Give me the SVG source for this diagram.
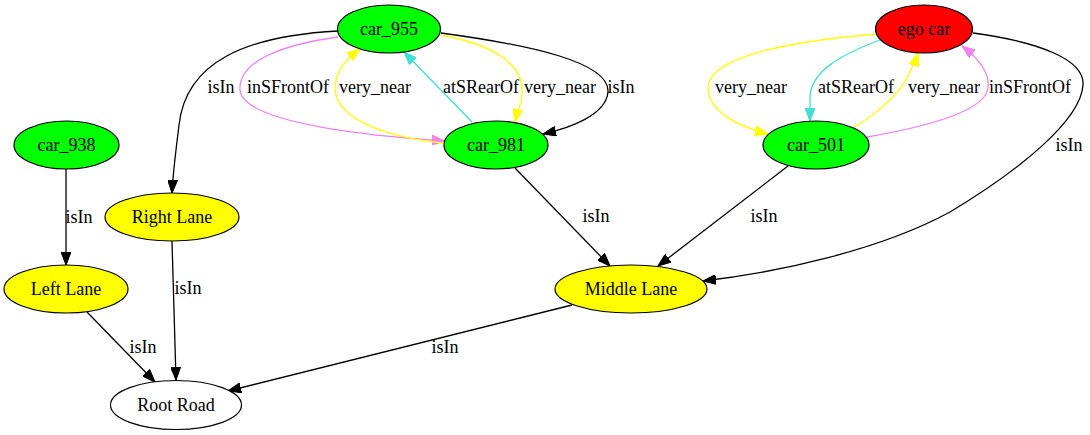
<svg xmlns="http://www.w3.org/2000/svg" width="1090" height="435" viewBox="0 0 1090 435">
<style>
text{font-family:"Liberation Serif","Times New Roman",serif;font-size:18px;text-anchor:middle;fill:#000}
.n ellipse{stroke:#000;stroke-width:1.2}
.e path{fill:none;stroke-width:1.3}
.k{stroke:#000}
.y{stroke:#ffff00}
.v{stroke:#ee82ee}
.t{stroke:#40e0d0}
</style>
<defs>
<marker id="ak" markerWidth="14" markerHeight="10" refX="13" refY="5" orient="auto" markerUnits="userSpaceOnUse"><path d="M0,0 L13,5 L0,10 z" fill="#000" stroke="#000"/></marker>
<marker id="ay" markerWidth="14" markerHeight="10" refX="13" refY="5" orient="auto" markerUnits="userSpaceOnUse"><path d="M0,0 L13,5 L0,10 z" fill="#ffff00" stroke="#ffff00"/></marker>
<marker id="av" markerWidth="14" markerHeight="10" refX="13" refY="5" orient="auto" markerUnits="userSpaceOnUse"><path d="M0,0 L13,5 L0,10 z" fill="#ee82ee" stroke="#ee82ee"/></marker>
<marker id="at" markerWidth="14" markerHeight="10" refX="13" refY="5" orient="auto" markerUnits="userSpaceOnUse"><path d="M0,0 L13,5 L0,10 z" fill="#40e0d0" stroke="#40e0d0"/></marker>
</defs>
<g id="connectors" class="e">
<path class="k" marker-end="url(#ak)" d="M338,31 C245,36 186,62 179,125 C176,150 173,172 172,193"/>
<path class="v" marker-end="url(#av)" d="M338,37 C280,45 238,62 240,90 C243,125 385,137 445,141"/>
<path class="y" marker-end="url(#ay)" d="M444,143 C390,138 335,120 335,88 C335,70 348,58 360,49"/>
<path class="t" marker-end="url(#at)" d="M472,122 L404,52"/>
<path class="y" marker-end="url(#ay)" d="M441,35 C495,45 525,65 522,95 C521,105 517,113 515,122"/>
<path class="k" marker-end="url(#ak)" d="M441,33 C530,45 610,62 608,92 C606,115 570,128 543,134"/>
<path class="y" marker-end="url(#ay)" d="M878,34 C800,40 708,55 708,88 C708,112 740,127 768,134"/>
<path class="t" marker-end="url(#at)" d="M880,40 C840,55 810,72 810,98 L810,121"/>
<path class="y" marker-end="url(#ay)" d="M853,128 C878,113 902,92 910,72 C913,65 916,59 918,53"/>
<path class="v" marker-end="url(#av)" d="M867,137 C925,127 985,112 988,88 C990,72 978,58 962,46"/>
<path class="k" marker-end="url(#ak)" d="M973,33 C1040,42 1085,60 1083,85 C1081,120 1020,170 950,212 C880,250 780,272 703,281"/>
<path class="k" marker-end="url(#ak)" d="M515,168 L610,266"/>
<path class="k" marker-end="url(#ak)" d="M788,166 L658,266"/>
<path class="k" marker-end="url(#ak)" d="M572,305 L228,391"/>
<path class="k" marker-end="url(#ak)" d="M66,169 L66,265"/>
<path class="k" marker-end="url(#ak)" d="M172,241 L176,380"/>
<path class="k" marker-end="url(#ak)" d="M87,312 L155,382"/>
<text x="221" y="93">isIn</text>
<text x="288" y="93">inSFrontOf</text>
<text x="375" y="93">very_near</text>
<text x="481" y="93">atSRearOf</text>
<text x="560" y="93">very_near</text>
<text x="621" y="93">isIn</text>
<text x="751" y="93">very_near</text>
<text x="856" y="93">atSRearOf</text>
<text x="944" y="93">very_near</text>
<text x="1030" y="93">inSFrontOf</text>
<text x="1069" y="151">isIn</text>
<text x="596" y="222">isIn</text>
<text x="764" y="222">isIn</text>
<text x="445" y="353">isIn</text>
<text x="79" y="223">isIn</text>
<text x="188" y="294">isIn</text>
<text x="143" y="353">isIn</text>
</g>
<g id="car_955" class="n"><ellipse cx="389" cy="29" rx="51.5" ry="24" fill="#00ff00"/><text x="389" y="35">car_955</text></g>
<g id="car_981" class="n"><ellipse cx="496" cy="145" rx="52" ry="24" fill="#00ff00"/><text x="496" y="151">car_981</text></g>
<g id="ego_car" class="n"><ellipse cx="924" cy="29" rx="48.5" ry="24" fill="#ff0000"/><text x="924" y="35">ego car</text></g>
<g id="car_501" class="n"><ellipse cx="816" cy="145" rx="53" ry="24" fill="#00ff00"/><text x="816" y="151">car_501</text></g>
<g id="car_938" class="n"><ellipse cx="66.5" cy="145" rx="52.5" ry="24" fill="#00ff00"/><text x="66.5" y="151">car_938</text></g>
<g id="right_lane" class="n"><ellipse cx="172" cy="217" rx="67" ry="24" fill="#ffff00"/><text x="172" y="223">Right Lane</text></g>
<g id="left_lane" class="n"><ellipse cx="66" cy="289" rx="62" ry="24" fill="#ffff00"/><text x="66" y="295">Left Lane</text></g>
<g id="middle_lane" class="n"><ellipse cx="631" cy="289" rx="76" ry="24" fill="#ffff00"/><text x="631" y="295">Middle Lane</text></g>
<g id="root_road" class="n"><ellipse cx="176" cy="405" rx="65.5" ry="24.5" fill="#ffffff"/><text x="176" y="411">Root Road</text></g>
</svg>
